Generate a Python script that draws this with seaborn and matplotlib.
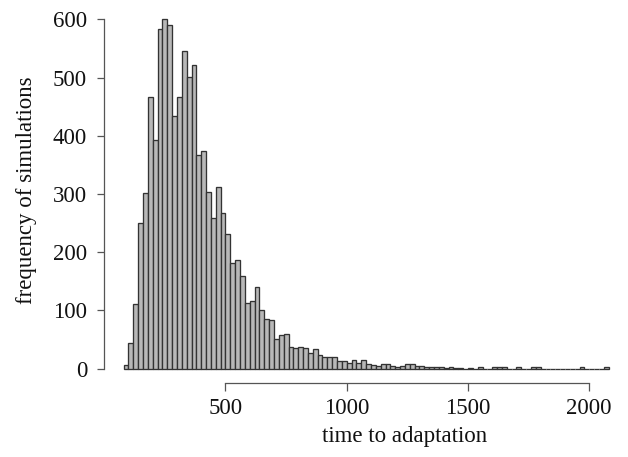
import numpy as np
import pandas as pd
import matplotlib
matplotlib.use("Agg")
import matplotlib.pyplot as plt
import seaborn as sns

# histogram counts, bins of width 20 starting at 80
bin_start = 80
bin_width = 20
counts = [
    6, 44, 111, 251, 301, 467, 393, 583, 600, 590,
    434, 467, 546, 501, 521, 367, 374, 303, 259, 312,
    268, 232, 182, 186, 159, 112, 116, 140, 101, 85,
    83, 50, 57, 59, 37, 36, 37, 36, 27, 33,
    23, 20, 20, 20, 13, 13, 9, 14, 9, 14,
    7, 6, 4, 7, 7, 4, 3, 5, 8, 7,
    5, 5, 2, 3, 2, 3, 1, 2, 1, 1,
    0, 1, 0, 2, 0, 0, 2, 2, 2, 0,
    0, 2, 0, 0, 2, 2, 0, 0, 0, 0,
    0, 0, 0, 0, 2, 0, 0, 0, 0, 2,
]
x_ticks = [500, 1000, 1500, 2000]
y_ticks = [0, 100, 200, 300, 400, 500, 600]

edges = bin_start + bin_width * np.arange(len(counts) + 1)
hist_df = pd.DataFrame({
    "time": (edges[:-1] + edges[1:]) / 2,
    "count": counts,
})

sns.set_style("ticks")
plt.rcParams["font.family"] = ["Liberation Serif", "DejaVu Serif"]

fig = plt.figure(figsize=(6.28, 4.57), dpi=100)
ax = fig.add_axes([0.166, 0.163, 0.834, 0.825])

sns.histplot(data=hist_df, x="time", weights="count", bins=list(edges),
             color="#b8b8b8", edgecolor="#333333", linewidth=0.95, alpha=1, ax=ax)

ax.set_xlim(0, 2160)
ax.set_ylim(-24, 624)
ax.set_xticks(x_ticks)
ax.set_yticks(y_ticks)

for side in ["top", "right"]:
    ax.spines[side].set_visible(False)
ax.spines["left"].set_bounds(0, 600)
ax.spines["bottom"].set_bounds(500, 2000)
for side in ["left", "bottom"]:
    ax.spines[side].set_color("#555555")
    ax.spines[side].set_linewidth(0.9)

ax.tick_params(direction="out", length=5.4, width=0.9, color="#555555",
               labelsize=16.5, labelcolor="#111111")
ax.tick_params(axis="x", pad=6)
ax.tick_params(axis="y", pad=7)

ax.set_xlabel("time to adaptation", fontsize=16.5, color="#111111")
ax.set_ylabel("frequency of simulations", fontsize=16.5, color="#111111")
ax.xaxis.set_label_coords(0.573, -0.115)
ax.yaxis.set_label_coords(-0.129, 0.51)

fig.savefig("out.png", dpi=100)
